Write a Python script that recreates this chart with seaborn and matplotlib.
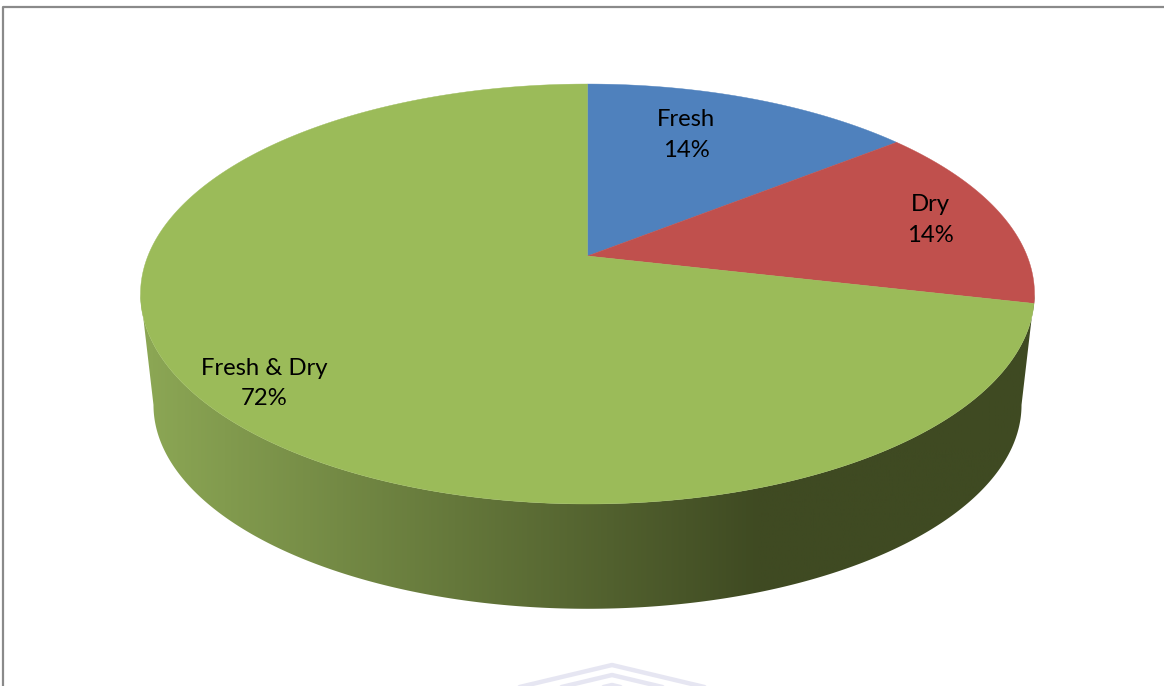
import matplotlib
matplotlib.use("Agg")
import matplotlib.pyplot as plt
from matplotlib.patches import Polygon
import numpy as np
import seaborn as sns

# dados
categorias = ["Fresh", "Dry", "Fresh & Dry"]
valores = [14.3, 14.3, 71.4]
rotulos_pct = ["14%", "14%", "72%"]
cores = ["#4F81BD", "#C0504D", "#9BBB59"]
cores_lateral = ["#8BA654", "#3F4A22"]

sns.set_theme(style="white")
plt.rcParams["font.family"] = ["Lato", "DejaVu Sans"]

# geometria da pizza em perspectiva (em pixels)
APICE_X, APICE_Y = 587.5, 256.0
APICE_BASE_Y = 368.0
ESCALA_BASE = 0.971
EIXO_A, EIXO_B, P = 439.6, 203.1, 0.181


def projetar(theta, apice_y=APICE_Y, escala=1.0):
    """Leva um angulo do disco (horario, a partir do topo) para a tela."""
    d = 1 + P * np.cos(theta)
    x = APICE_X + escala * EIXO_A * np.sin(theta) / d
    y = apice_y - escala * EIXO_B * np.cos(theta) / d
    return x, y


fig = plt.figure(figsize=(11.64, 6.86), dpi=100)
ax = fig.add_axes([0, 0, 1, 1])
ax.set_xlim(0, 1164)
ax.set_ylim(686, 0)
ax.axis("off")

# moldura (so topo e esquerda aparecem)
ax.plot([3, 3, 1164], [686, 6.5, 6.5], color="#8A8A8A", lw=1.6, zorder=1)

# marca d'agua no rodape
for topo in [665, 675, 685]:
    ax.plot([612 - (700 - topo) * 4.2, 612, 612 + (700 - topo) * 4.2],
            [700, topo, 700], color="#E6E6F2", lw=3.2, zorder=1)

# lateral: arco frontal entre os extremos esquerdo e direito
theta_dir = np.arccos(-P)
theta_esq = 2 * np.pi - theta_dir
arco = np.linspace(theta_dir, theta_esq, 300)
xt, yt = projetar(arco)
xb, yb = projetar(arco, APICE_BASE_Y, ESCALA_BASE)
contorno = np.column_stack([np.r_[xt, xb[::-1]], np.r_[yt, yb[::-1]]])
lateral = Polygon(contorno, closed=True, fc="none", ec="none")
ax.add_patch(lateral)
gradiente = sns.blend_palette(cores_lateral, as_cmap=True)
faixa = np.clip((np.linspace(140, 1035, 600) - 150) / 610, 0, 1)
img = ax.imshow(faixa[np.newaxis, :], cmap=gradiente, vmin=0, vmax=1,
                extent=[140, 1035, 612, 290], aspect="auto", zorder=2)
img.set_clip_path(lateral)
ax.set_xlim(0, 1164)
ax.set_ylim(686, 0)

# fatias do topo
fim = np.cumsum(valores) / np.sum(valores) * 2 * np.pi
inicio = np.r_[0, fim[:-1]]
for a0, a1, cor in zip(inicio, fim, sns.color_palette(cores)):
    th = np.linspace(a0, a1, 300)
    x, y = projetar(th)
    ax.add_patch(Polygon(np.column_stack([np.r_[APICE_X, x], np.r_[APICE_Y, y]]),
                         closed=True, fc=cor, ec=cor, lw=0.3, zorder=3))

# rotulos
posicoes = [(686, 135), (930, 220), (264.5, 383.5)]
for nome, pct, (px, py) in zip(categorias, rotulos_pct, posicoes):
    ax.text(px, py, f"{nome}\n{pct}", ha="center", va="center", fontsize=17.2,
            color="black", linespacing=1.55, zorder=4)

fig.savefig("out.png", dpi=100)
plt.close(fig)
